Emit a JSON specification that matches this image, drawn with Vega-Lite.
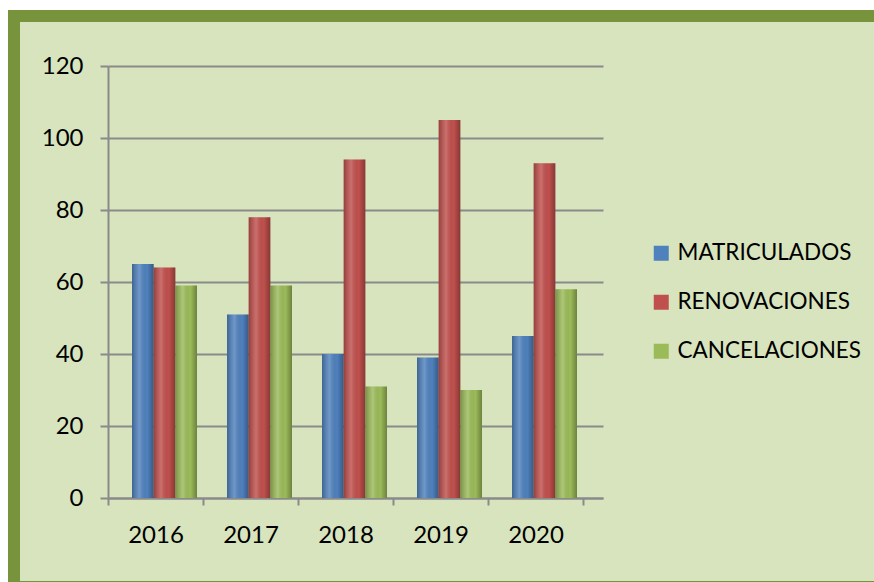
{
  "$schema": "https://vega.github.io/schema/vega-lite/v6.json",
  "width": 870,
  "height": 571,
  "autosize": {"type": "none"},
  "padding": {"left": 14, "top": 16, "right": -10, "bottom": -5},
  "background": "#ffffff",
  "config": {
    "view": {"fill": "#d7e4bd", "stroke": "#77933c", "strokeWidth": 12},
    "font": "Lato"
  },
  "data": {
    "values": [
      {"year": "2016", "series": "MATRICULADOS", "value": 65},
      {"year": "2016", "series": "RENOVACIONES", "value": 64},
      {"year": "2016", "series": "CANCELACIONES", "value": 59},
      {"year": "2017", "series": "MATRICULADOS", "value": 51},
      {"year": "2017", "series": "RENOVACIONES", "value": 78},
      {"year": "2017", "series": "CANCELACIONES", "value": 59},
      {"year": "2018", "series": "MATRICULADOS", "value": 40},
      {"year": "2018", "series": "RENOVACIONES", "value": 94},
      {"year": "2018", "series": "CANCELACIONES", "value": 31},
      {"year": "2019", "series": "MATRICULADOS", "value": 39},
      {"year": "2019", "series": "RENOVACIONES", "value": 105},
      {"year": "2019", "series": "CANCELACIONES", "value": 30},
      {"year": "2020", "series": "MATRICULADOS", "value": 45},
      {"year": "2020", "series": "RENOVACIONES", "value": 93},
      {"year": "2020", "series": "CANCELACIONES", "value": 58}
    ]
  },
  "encoding": {
    "x": {
      "field": "year",
      "type": "nominal",
      "scale": {"range": [94, 589], "paddingInner": 0, "paddingOuter": 0.10526, "align": 0},
      "axis": {
        "title": null,
        "labelAngle": 0,
        "labelFontSize": 24,
        "labelColor": "#000000",
        "labelPadding": 18,
        "domain": true,
        "domainColor": "#8a8a8a",
        "domainWidth": 2,
        "ticks": true,
        "tickBand": "extent",
        "tickSize": 7,
        "tickColor": "#8a8a8a",
        "tickWidth": 2,
        "grid": false,
        "offset": -89
      }
    },
    "xOffset": {
      "field": "series",
      "type": "nominal",
      "sort": ["MATRICULADOS", "RENOVACIONES", "CANCELACIONES"],
      "scale": {"range": [24, 89], "paddingInner": 0, "paddingOuter": 0}
    },
    "y": {
      "field": "value",
      "type": "quantitative",
      "scale": {"domain": [0, 120], "range": [482, 50], "nice": false},
      "axis": {
        "title": null,
        "values": [0, 20, 40, 60, 80, 100, 120],
        "labelFontSize": 24,
        "labelColor": "#000000",
        "labelPadding": 17,
        "domain": true,
        "domainColor": "#8a8a8a",
        "domainWidth": 2,
        "ticks": true,
        "tickSize": 8,
        "tickColor": "#8a8a8a",
        "tickWidth": 2,
        "grid": true,
        "gridColor": "#8a8a8a",
        "gridWidth": 2,
        "offset": -94
      }
    }
  },
  "layer": [
    {
      "mark": {"type": "bar"},
      "encoding": {
        "color": {
          "field": "series",
          "type": "nominal",
          "sort": ["MATRICULADOS", "RENOVACIONES", "CANCELACIONES"],
          "scale": {
            "domain": ["MATRICULADOS", "RENOVACIONES", "CANCELACIONES"],
            "range": ["#4f81bd", "#c0504d", "#9bbb59"]
          },
          "legend": {
            "orient": "none",
            "legendX": 636,
            "legendY": 226,
            "title": null,
            "symbolType": "square",
            "symbolSize": 225,
            "symbolStrokeWidth": 0,
            "symbolOpacity": 1,
            "labelFontSize": 22.5,
            "labelColor": "#000000",
            "labelFont": "Lato",
            "labelLimit": 400,
            "rowPadding": 26,
            "labelOffset": 5,
            "padding": 0
          }
        }
      }
    },
    {
      "mark": {
        "type": "bar",
        "fill": {
          "gradient": "linear",
          "x1": 0, "y1": 0, "x2": 1, "y2": 0,
          "stops": [
            {"offset": 0, "color": "rgba(0,0,0,0.22)"},
            {"offset": 0.35, "color": "rgba(255,255,255,0.18)"},
            {"offset": 0.7, "color": "rgba(0,0,0,0)"},
            {"offset": 1, "color": "rgba(0,0,0,0.3)"}
          ]
        }
      },
      "encoding": {}
    }
  ]
}
